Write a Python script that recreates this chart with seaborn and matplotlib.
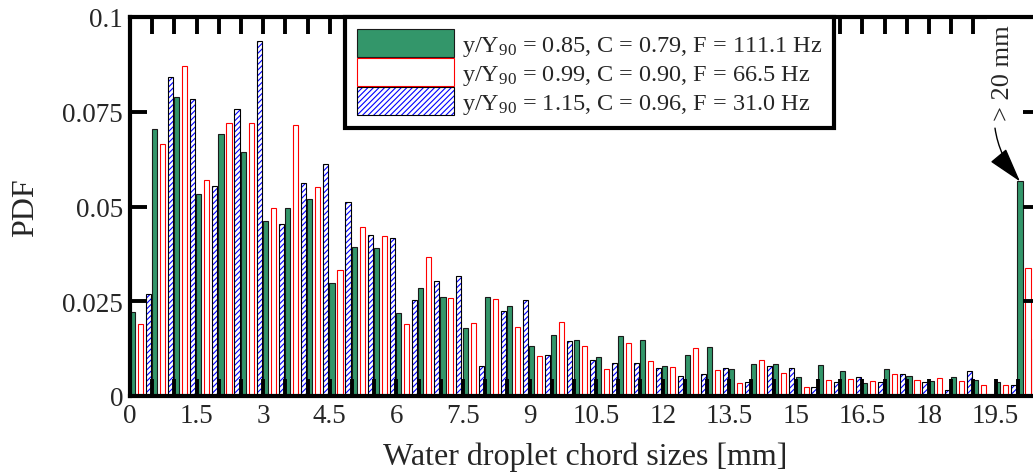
import numpy as np
import pandas as pd
import matplotlib
matplotlib.use("Agg")
import matplotlib.pyplot as plt
from matplotlib.patches import Patch
from matplotlib.colors import to_rgba
from matplotlib.ticker import MultipleLocator, FixedLocator, FormatStrFormatter
import seaborn as sns

# bins of 0.5 mm, the last one is "> 20 mm"
bin_lower = np.arange(0, 20.5, 0.5)

pdf_085 = [0.0221, 0.0705, 0.0788, 0.0534, 0.0691, 0.0645, 0.0463, 0.0495, 0.0521, 0.0298,
           0.0393, 0.0391, 0.0219, 0.0286, 0.0261, 0.0179, 0.0261, 0.0237, 0.0131, 0.0160,
           0.0148, 0.0104, 0.0159, 0.0147, 0.0078, 0.0108, 0.0129, 0.0070, 0.0085, 0.0084,
           0.0051, 0.0083, 0.0065, 0.0034, 0.0071, 0.0052, 0.0039, 0.0050, 0.0042, 0.0038,
           0.0566]
pdf_099 = [0.0190, 0.0666, 0.0870, 0.0571, 0.0721, 0.0721, 0.0497, 0.0715, 0.0551, 0.0333,
           0.0446, 0.0423, 0.0189, 0.0367, 0.0259, 0.0193, 0.0256, 0.0182, 0.0106, 0.0196,
           0.0132, 0.0072, 0.0139, 0.0093, 0.0076, 0.0126, 0.0069, 0.0034, 0.0095, 0.0062,
           0.0025, 0.0042, 0.0045, 0.0039, 0.0058, 0.0042, 0.0048, 0.0040, 0.0029, 0.0029,
           0.0338]
pdf_115 = [0.0268, 0.0841, 0.0784, 0.0555, 0.0756, 0.0936, 0.0455, 0.0561, 0.0613, 0.0512,
           0.0425, 0.0418, 0.0253, 0.0303, 0.0317, 0.0080, 0.0224, 0.0253, 0.0109, 0.0146,
           0.0095, 0.0088, 0.0087, 0.0074, 0.0052, 0.0058, 0.0073, 0.0036, 0.0080, 0.0073,
           0.0023, 0.0036, 0.0051, 0.0036, 0.0059, 0.0036, 0.0016, 0.0066, 0.0000, 0.0030,
           0.0150]

series_labels = [
    "y/Y$_{\\rm 90}$ = 0.85, C = 0.79, F = 111.1 Hz",
    "y/Y$_{\\rm 90}$ = 0.99, C = 0.90, F = 66.5 Hz",
    "y/Y$_{\\rm 90}$ = 1.15, C = 0.96, F = 31.0 Hz",
]
x_ticks = [0, 1.5, 3, 4.5, 6, 7.5, 9, 10.5, 12, 13.5, 15, 16.5, 18, 19.5]
y_ticks = [0, 0.025, 0.05, 0.075, 0.1]

green = "#33966a"

# long table for seaborn
df = pd.concat([
    pd.DataFrame({"x": bin_lower + 0.23, "pdf": vals, "series": lab})
    for vals, lab in zip([pdf_085, pdf_099, pdf_115], series_labels)
], ignore_index=True)

sns.set_style("ticks")
plt.rcParams['font.family'] = ['Liberation Serif', 'DejaVu Serif']
plt.rcParams['mathtext.fontset'] = 'custom'
plt.rcParams['mathtext.rm'] = 'Liberation Serif'
plt.rcParams['mathtext.it'] = 'Liberation Serif:italic'
plt.rcParams['hatch.linewidth'] = 0.8

fig = plt.figure(figsize=(10.33, 4.77), dpi=100)
ax = fig.add_axes([130 / 1033, 1 - 397 / 477, 910 / 1033, 379 / 477])

sns.barplot(data=df, x="x", y="pdf", hue="series", hue_order=series_labels,
            native_scale=True, width=1.08, gap=0.36, saturation=1,
            errorbar=None, legend=False, ax=ax,
            palette=[green, "white", "white"])

# styles per series
styles = [
    dict(fc=green, ec="#1a1a1a", hatch=None, lw=0.8),
    dict(fc="white", ec="red", hatch=None, lw=0.8),
    dict(fc="white", ec="black", hatch="//////", lw=0.8),
]
for cont, st in zip(ax.containers, styles):
    for p in cont:
        p.set_facecolor(st["fc"])
        p.set_edgecolor(st["ec"])
        p.set_linewidth(st["lw"])
        if st["hatch"]:
            p.set_hatch(st["hatch"])
            p._hatch_color = to_rgba("blue")

ax.set_xlim(0, 20.5)
ax.set_ylim(0, 0.1)
ax.xaxis.set_major_locator(FixedLocator(x_ticks))
ax.xaxis.set_minor_locator(MultipleLocator(0.5))
ax.yaxis.set_major_locator(FixedLocator(y_ticks))
ax.yaxis.set_major_formatter(FormatStrFormatter('%g'))
ax.xaxis.set_major_formatter(FormatStrFormatter('%g'))
ax.tick_params(which='both', direction='in', top=True, right=True,
               length=12.5, width=2.8, color='black')
ax.tick_params(which='major', labelsize=19.5, pad=5)
ax.set_axisbelow(False)
for s in ax.spines.values():
    s.set_linewidth(3)
    s.set_color('black')

ax.set_xlabel("Water droplet chord sizes [mm]", fontsize=23, labelpad=10)
ax.set_ylabel("PDF", fontsize=23, labelpad=16)

# legend
handles = [
    Patch(facecolor=green, edgecolor="#1a1a1a", linewidth=0.8),
    Patch(facecolor="white", edgecolor="red", linewidth=0.8),
    Patch(facecolor="white", edgecolor="black", hatch="//////", linewidth=0.8),
]
leg = ax.legend(handles, series_labels, loc='upper left',
                bbox_to_anchor=((345 - 130) / 910, 1.0), borderaxespad=0,
                fontsize=17.5, handlelength=4.0, handleheight=1.38,
                labelspacing=0, handletextpad=0.3, borderpad=0.5,
                fancybox=False, framealpha=1, edgecolor='black')
leg.get_frame().set_linewidth(3)
leg.get_patches()[2]._hatch_color = to_rgba("blue")

# "> 20 mm" note pointing at the last green bar
last_bar = ax.containers[0][-1]
ax.annotate("> 20 mm",
            xy=(last_bar.get_x() + last_bar.get_width() / 2, last_bar.get_height()),
            xytext=(19.67, 0.0855), rotation=90, ha='center', va='center',
            fontsize=19, annotation_clip=False,
            bbox=dict(fc='white', ec='none', pad=4),
            arrowprops=dict(arrowstyle='-|>,head_length=1.1,head_width=0.32',
                            mutation_scale=20, fc='black', ec='black', lw=1,
                            connectionstyle='arc3,rad=0.3', shrinkA=2, shrinkB=0))

fig.savefig("out.png", dpi=100)
